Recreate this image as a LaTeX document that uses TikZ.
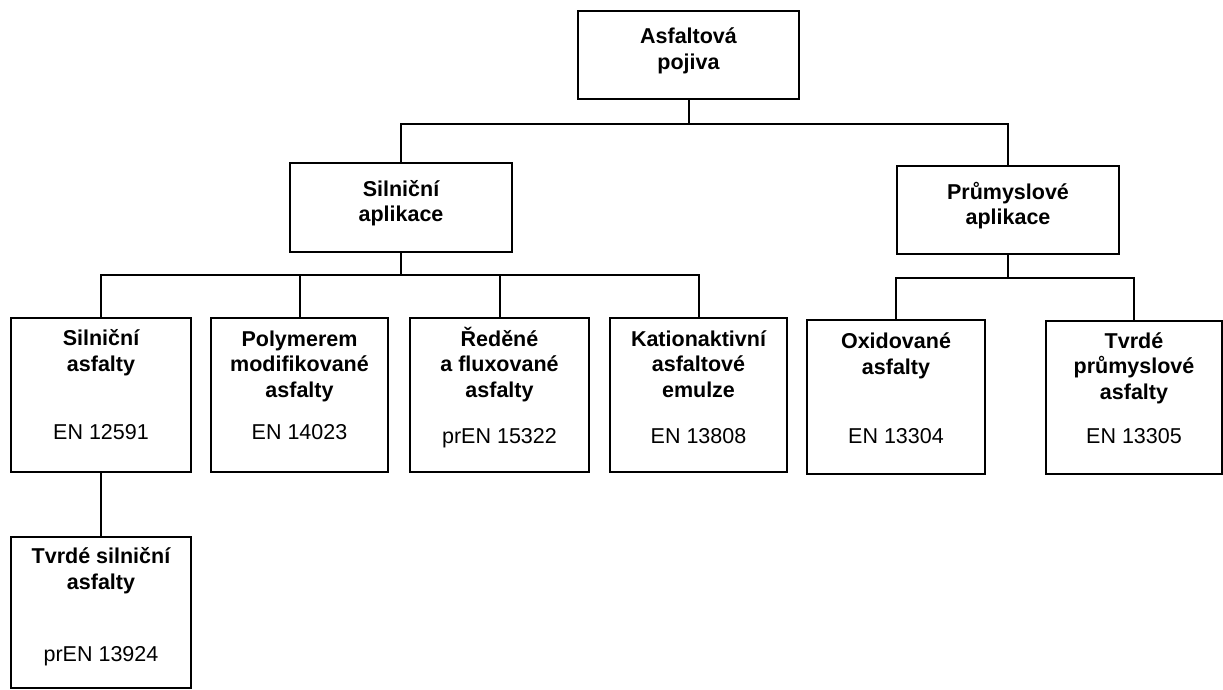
\documentclass[tikz,border=0pt]{standalone}
\usepackage{fontspec}
\setmainfont{Liberation Sans}
\begin{document}
\begin{tikzpicture}[x=1pt,y=-1pt,
box/.style={
% The frame:
rectangle,
draw=black,
line width=2pt,
inner sep=0pt
},
head/.style={
box,
align=center,
text depth=13pt,
font=\fontsize{21.5}{25.5}\selectfont\bfseries
},
title/.style={anchor=base,align=center,inner sep=0pt,font=\fontsize{21.5}{25.5}\selectfont\bfseries},
norm/.style={anchor=base,inner sep=0pt,font=\fontsize{21.5}{25.5}\selectfont},
link/.style={line width=2pt}
]
\useasboundingbox (0,0) rectangle (1223,689);
% Upper levels:
\node (top) [head,minimum width=221pt,minimum height=88pt] at (688.5,55) {Asfaltová\\pojiva};
\node (sil) [head,minimum width=222pt,minimum height=89pt] at (401,207.5) {Silniční\\aplikace};
\node (prum) [head,minimum width=222pt,minimum height=88pt] at (1008,210) {Průmyslové\\aplikace};
% Leaves (title base = its last line):
\node (sa) [box,minimum width=180pt,minimum height=154pt] at (101,395) {};
\node (pm) [box,minimum width=177pt,minimum height=154pt] at (299.5,395) {};
\node (rf) [box,minimum width=179pt,minimum height=154pt] at (499.5,395) {};
\node (ka) [box,minimum width=177pt,minimum height=154pt] at (698.5,395) {};
\node (ox) [box,minimum width=178pt,minimum height=154pt] at (896,397) {};
\node (tp) [box,minimum width=176pt,minimum height=153pt] at (1134,397.5) {};
\node (ts) [box,minimum width=180pt,minimum height=151pt] at (101,612.5) {};
\node (sa-t) [title] at ([yshift=-54pt]sa.north) {Silniční\\asfalty};
\node (pm-t) [title] at ([yshift=-80pt]pm.north) {Polymerem\\modifikované\\asfalty};
\node (rf-t) [title] at ([yshift=-80pt]rf.north) {Ředěné\\a fluxované\\asfalty};
\node (ka-t) [title] at ([yshift=-80pt]ka.north) {Kationaktivní\\asfaltové\\emulze};
\node (ox-t) [title] at ([yshift=-55pt]ox.north) {Oxidované\\asfalty};
\node (tp-t) [title] at ([yshift=-79pt]tp.north) {Tvrdé\\průmyslové\\asfalty};
\node (ts-t) [title] at ([yshift=-53pt]ts.north) {Tvrdé silniční\\asfalty};
\node (sa-n) [norm] at ([yshift=34pt]sa.south) {EN 12591};
\node (pm-n) [norm] at ([yshift=34pt]pm.south) {EN 14023};
\node (rf-n) [norm] at ([yshift=30pt]rf.south) {prEN 15322};
\node (ka-n) [norm] at ([yshift=30pt]ka.south) {EN 13808};
\node (ox-n) [norm] at ([yshift=32pt]ox.south) {EN 13304};
\node (tp-n) [norm] at ([yshift=32pt]tp.south) {EN 13305};
\node (ts-n) [norm] at ([yshift=28pt]ts.south) {prEN 13924};
% Junctions:
\path (top.south) ++(0,24) coordinate (j1);
\path (sil.south) ++(0,22) coordinate (j2);
\path (prum.south) ++(0,23) coordinate (j3);
\draw[link] (top.south) -- (j1) (sil.north) |- (j1) -| (prum.north);
\draw[link] (sil.south) -- (j2) (sa.north) |- (j2) -| (ka.north);
\draw[link] (prum.south) -- (j3) (ox.north) |- (j3) -| (tp.north);
\path[link] (pm.north) edge (pm.north |- j2) (rf.north) edge (rf.north |- j2) (sa) edge (ts);
\end{tikzpicture}
\end{document}
